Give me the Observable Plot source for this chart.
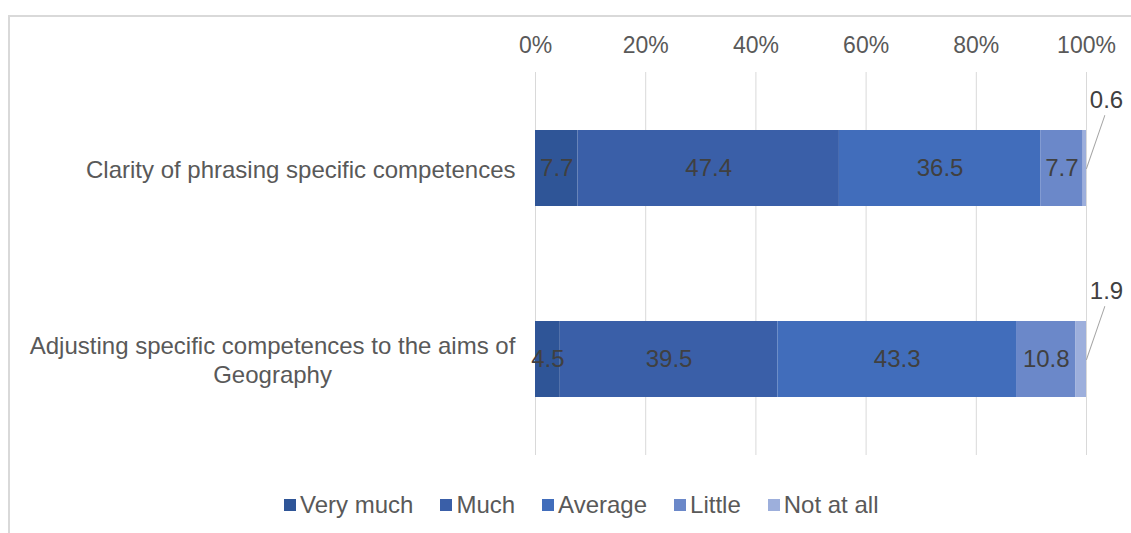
<!DOCTYPE html>
<html><head><meta charset="utf-8">
<script src="https://cdn.jsdelivr.net/npm/d3@7"></script>
<script src="https://cdn.jsdelivr.net/npm/@observablehq/plot@0.6"></script>
<style>
body{margin:0;background:#fff;font-family:"Liberation Sans",Arial,sans-serif;}
#wrap{position:relative;width:1131px;height:533px;overflow:hidden;background:#fff;}
#frame{position:absolute;left:8px;top:15px;width:1200px;height:600px;border-left:2px solid #d9d9d9;border-top:2px solid #d9d9d9;}
#chart{position:absolute;left:0;top:0;}
#legend{position:absolute;left:284px;top:488px;}
.lg-swatches{margin:0 !important;}
.lg-swatch{margin-right:27px !important;}
.lg-swatch > svg{margin-right:4px !important;}
</style>
</head><body>
<div id="wrap"><div id="frame"></div><div id="chart"></div><div id="legend"></div></div>
<script>
const categories = ["Clarity of phrasing specific competences", "Adjusting specific competences to the aims of Geography"];
const categoryLabels = ["Clarity of phrasing specific competences", "Adjusting specific competences to the aims of\nGeography"];
const series = ["Very much", "Much", "Average", "Little", "Not at all"];
const clarityValues = [7.7, 47.4, 36.5, 7.7, 0.6];
const adjustingValues = [4.5, 39.5, 43.3, 10.8, 1.9];
const xTicks = [0, 20, 40, 60, 80, 100];
const colors = ["#2f5597", "#3a5fa8", "#416dbb", "#6b88c9", "#9dafdc"];

const valuesByCategory = [clarityValues, adjustingValues];
const rows = categories.flatMap((c, i) => series.map((s, j) => ({category: c, series: s, value: valuesByCategory[i][j]})));
const outside = "Not at all";
const fontFamily = '"Liberation Sans", Arial, sans-serif';

const chart = Plot.plot({
  width: 1131, height: 470,
  marginLeft: 535, marginRight: 45, marginTop: 72, marginBottom: 15,
  style: {fontFamily, fontSize: "24px", color: "#595959", background: "transparent", overflow: "visible"},
  x: {domain: [0, 1]},
  y: {domain: categories, paddingInner: 0.6, paddingOuter: 0.3},
  color: {domain: series, range: colors},
  marks: [
    Plot.gridX({ticks: xTicks.map(d => d / 100), stroke: "#d9d9d9", strokeOpacity: 1}),
    Plot.axisX({anchor: "top", label: null, ticks: xTicks.map(d => d / 100), tickSize: 0, tickPadding: 20, fontSize: 23, tickFormat: d => Math.round(d * 100) + "%", fill: "#595959"}),
    Plot.axisY({label: null, tickSize: 0, tickPadding: 20, tickFormat: d => categoryLabels[categories.indexOf(d)], lineHeight: 1.17, fill: "#595959"}),
    Plot.barX(rows, Plot.stackX({x: "value", y: "category", fill: "series", offset: "normalize"})),
    Plot.text(rows, Plot.stackX({x: "value", y: "category", offset: "normalize", text: d => d.series !== outside ? d.value.toFixed(1) : null, fill: "#404040"})),
    Plot.vector(rows, Plot.stackX2({x: "value", y: "category", offset: "normalize", length: 56, rotate: 19, anchor: "start", r: 0, stroke: "#a6a6a6", strokeWidth: 1, strokeOpacity: d => d.series === outside ? 1 : 0})),
    Plot.text(rows, Plot.stackX2({x: "value", y: "category", offset: "normalize", text: d => d.series === outside ? d.value.toFixed(1) : null, dx: 20, dy: -68, fill: "#404040"}))
  ]
});
document.getElementById("chart").appendChild(chart);
chart.querySelectorAll('g[aria-label="y-axis tick label"] text').forEach(t => {
  const ts = t.querySelectorAll("tspan");
  if (ts.length > 1) {
    const w = t.getBBox().width;
    t.setAttribute("text-anchor", "middle");
    ts.forEach(s => s.setAttribute("x", -w / 2));
  }
});

const legend = Plot.legend({
  color: {domain: series, range: colors},
  legend: "swatches", swatchSize: 12, className: "lg",
  style: {fontFamily, fontSize: "24px", color: "#595959"}
});
document.getElementById("legend").appendChild(legend);
</script>
</body></html>
